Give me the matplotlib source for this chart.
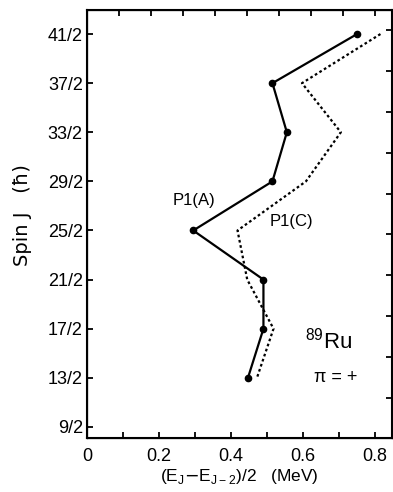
import numpy as np
import matplotlib.pyplot as plt

# Data: spin J (in units of 1/2) and (E_J - E_J-2)/2 in MeV
spin_a = [41, 37, 33, 29, 25, 21, 17, 13]
e_a = [0.75, 0.515, 0.555, 0.515, 0.295, 0.49, 0.49, 0.447]

spin_c = [41, 37, 33, 29, 25, 21, 17, 13]
e_c = [0.815, 0.597, 0.705, 0.608, 0.418, 0.445, 0.518, 0.472]

ytick_num = [9, 13, 17, 21, 25, 29, 33, 37, 41]
xtick_major = [0, 0.2, 0.4, 0.6, 0.8]


def main():
	plt.rcParams['font.family'] = ['Liberation Sans', 'DejaVu Sans']

	fig = plt.figure(figsize=(3.93, 4.92), dpi=100)
	ax = fig.add_axes([0.2214, 0.1098, 0.776, 0.8699])

	ya = np.array(spin_a) / 2
	yc = np.array(spin_c) / 2

	ax.plot(e_a, ya, color='black', linewidth=1.6, marker='o', markersize=4.5)
	ax.plot(e_c, yc, color='black', linewidth=1.6, linestyle=(0, (1.2, 1.2)))

	ax.set_xlim(0, 0.847)
	ax.set_ylim(4.05, 21.48)

	ax.set_yticks(np.array(ytick_num) / 2)
	ax.set_yticklabels([f'{n}/2' for n in ytick_num])
	ax.set_xticks(xtick_major)
	ax.set_xticklabels(['0', '0.2', '0.4', '0.6', '0.8'])
	ax.set_xticks(np.arange(0.1, 0.85, 0.2), minor=True)

	ax.tick_params(axis='both', which='both', direction='in', length=4,
	               width=1.3, labelsize=13, pad=3)
	ax.tick_params(axis='x', pad=7)
	for s in ax.spines.values():
		s.set_linewidth(1.5)

	# ticks on top and right are spaced independently in the original
	ax_top = ax.twiny()
	ax_top.set_xlim(0, 1)
	ax_top.set_xticks(0.1049 * np.arange(1, 10))
	ax_top.tick_params(axis='x', direction='in', length=4, width=1.3,
	                   labeltop=False, labelbottom=False)
	ax_right = ax_top.twinx()
	ax_right.set_ylim(0, 1)
	ax_right.set_yticks(0.0935 + 0.0955 * np.arange(10))
	ax_right.tick_params(axis='y', direction='in', length=4, width=1.3,
	                     labelright=False, labelleft=False)

	ax.set_xlabel(r'(E$_\mathregular{J}$$-$E$_\mathregular{J-2}$)/2   (MeV)',
	              fontsize=12.5, labelpad=2)
	ax.set_ylabel('Spin J   (\u0127)', fontsize=14, labelpad=6,
	              family=['DejaVu Sans'])
	ax.yaxis.set_label_coords(-0.18, 0.52)

	ax.text(0.297, 13.74, 'P1(A)', fontsize=12, ha='center', va='center')
	ax.text(0.567, 12.85, 'P1(C)', fontsize=12, ha='center', va='center')
	ax.text(0.672, 8.0, r'$^\mathregular{89}$Ru', fontsize=16,
	        ha='center', va='center')
	ax.text(0.69, 6.5, 'π = +', fontsize=13, ha='center', va='center')

	fig.savefig('out.png', dpi=100)


if __name__ == '__main__':
	main()
